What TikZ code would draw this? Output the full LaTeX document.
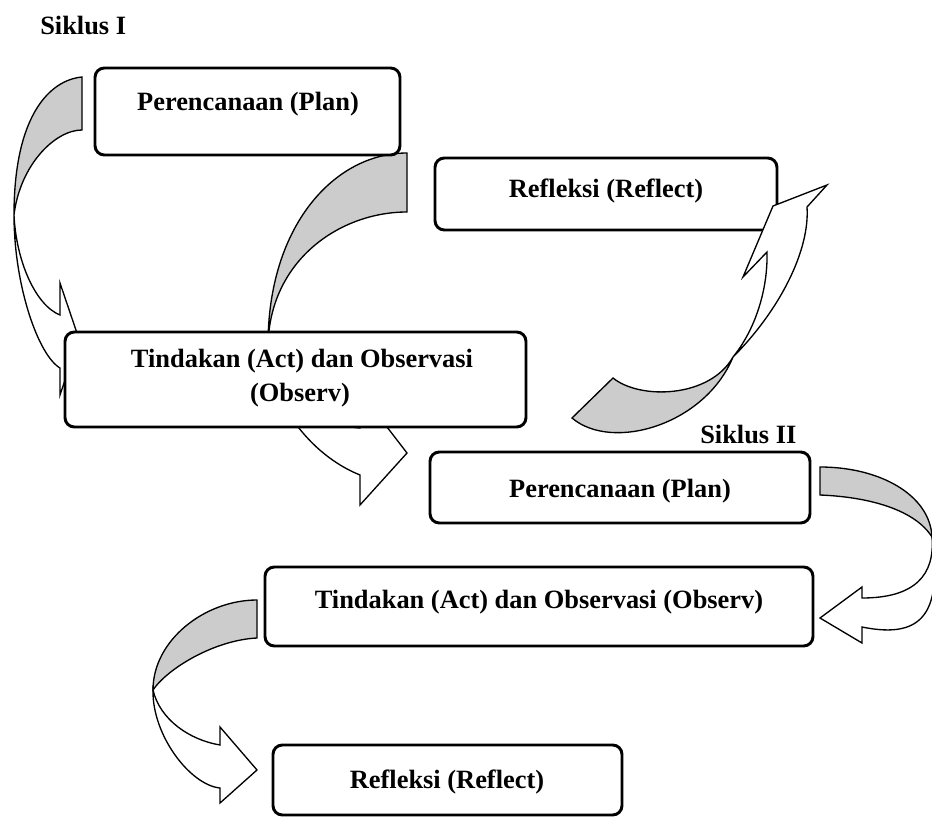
\documentclass[tikz,border=0pt]{standalone}
\usepackage{fontspec}
\setmainfont{Liberation Serif}
\usetikzlibrary{fit}
\definecolor{backgray}{RGB}{204,204,204}
\begin{document}
\begin{tikzpicture}[x=0.75pt,y=-0.75pt,
  stagebox/.style={draw, line width=2.2pt, rounded corners=7pt, fill=white, inner sep=0pt},
  lbl/.style={font=\fontsize{19.8}{26}\selectfont\bfseries, inner sep=0pt, anchor=base},
  backpart/.style={draw, line width=1pt, fill=backgray, line join=miter},
  frontpart/.style={draw, line width=1pt, fill=white, line join=miter}]

\useasboundingbox (0,0) rectangle (932,817);

% Arrow A (Plan I -> Tindakan I)
\path[backpart] (82,77) .. controls (50,80) and (14,115) .. (14,215)
  .. controls (20,165) and (55,130) .. (82,130) -- cycle;
\path[frontpart] (14,215) .. controls (14,285) and (38,355) .. (60,368)
  -- (60,395) -- (79,339) -- (60,283) -- (60,315)
  .. controls (35,305) and (16,260) .. (14,215) -- cycle;

% Arrow B (behind Tindakan I)
\path[backpart] (407,153) .. controls (335,153) and (268,225) .. (268,345)
  .. controls (270,260) and (340,212) .. (407,212) -- cycle;
\path[frontpart] (268,345) .. controls (268,400) and (310,455) .. (360,475)
  -- (360,505) -- (407,453) -- (360,392) -- (360,428)
  .. controls (315,425) and (270,385) .. (268,345) -- cycle;

% Arrow D (Plan II -> Tindakan II)
\path[backpart] (820,467) .. controls (880,467) and (930,495) .. (932,537)
  .. controls (915,510) and (870,497) .. (820,495) -- cycle;
\path[frontpart] (932,537) .. controls (942,610) and (925,640) .. (862,627)
  -- (862,643) -- (820,618) -- (862,587) -- (862,598)
  .. controls (915,598) and (935,575) .. (932,537) -- cycle;

% Arrow E (Tindakan II -> Refleksi II)
\path[backpart] (257,600) .. controls (205,600) and (153,640) .. (153,690)
  .. controls (168,668) and (215,640) .. (257,638) -- cycle;
\path[frontpart] (153,690) .. controls (152,735) and (190,785) .. (220,788)
  -- (220,803) -- (257,770) -- (220,727) -- (220,745)
  .. controls (190,740) and (160,720) .. (153,690) -- cycle;

% Boxes
\node[stagebox, fit={(95,68)(400,155)}] (plan1) {};
\node[lbl] (plan1t) at (248,110) {Perencanaan (Plan)};

\node[stagebox, fit={(435,158)(777,230)}] (refl1) {};
\node[lbl] (refl1t) at (606,197) {Refleksi (Reflect)};

\node[stagebox, fit={(65,332)(526,427)}] (act1) {};
\node[lbl] (act1a) at (302,367) {Tindakan (Act) dan Observasi};
\node[lbl] (act1b) at (300,401) {(Observ)};

\node[stagebox, fit={(430,452)(810,523)}] (plan2) {};
\node[lbl] (plan2t) at (620,497) {Perencanaan (Plan)};

\node[stagebox, fit={(265,567)(813,646)}] (act2) {};
\node[lbl] (act2t) at (539,608) {Tindakan (Act) dan Observasi (Observ)};

\node[stagebox, fit={(273,745)(622,815)}] (refl2) {};
\node[lbl] (refl2t) at (447,788) {Refleksi (Reflect)};

\node[lbl, anchor=base west] (s1) at (40,35) {Siklus I};
\node[lbl, anchor=base west] (s2) at (700,443) {Siklus II};

% Arrow C (Tindakan I -> Refleksi I), drawn over the box
\path[backpart] (572,418) .. controls (612,452) and (705,425) .. (733,357)
  .. controls (710,398) and (640,400) .. (613,378) -- cycle;
\path[frontpart] (733,357) .. controls (780,310) and (810,250) .. (807,207)
  -- (827,185) -- (773,206) -- (743,277) -- (767,252)
  .. controls (768,290) and (755,330) .. (733,357) -- cycle;
\end{tikzpicture}
\end{document}
